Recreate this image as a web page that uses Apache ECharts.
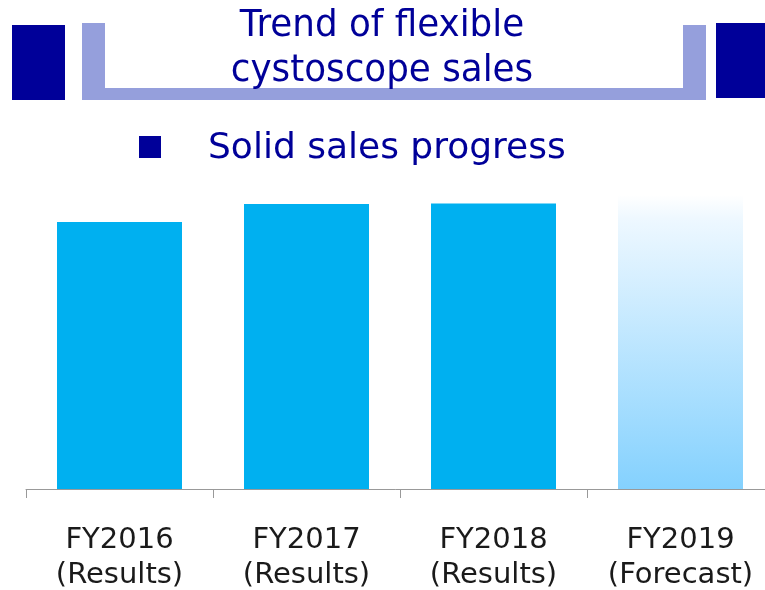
<!DOCTYPE html>
<html>
<head>
<meta charset="utf-8">
<title>Trend of flexible cystoscope sales</title>
<script src="https://cdn.jsdelivr.net/npm/echarts@6/dist/echarts.min.js"></script>
<style>
  html, body { margin: 0; padding: 0; background: #fff; }
  #chart { width: 765px; height: 590px; }
</style>
</head>
<body>
<div id="chart"></div>
<script>
// values (no axis scale shown, relative heights only)
const categories = ['FY2016\n(Results)', 'FY2017\n(Results)', 'FY2018\n(Results)', 'FY2019\n(Forecast)']
const sales = [267, 285, 285.5, 294]
const forecastFlags = [false, false, false, true]
const titleLines = ['Trend of flexible', 'cystoscope sales']
const bulletText = 'Solid sales progress'

const navy = '#000099'
const lilac = '#959fdc'

const chart = echarts.init(document.getElementById('chart'))

const barData = sales.map((v, i) => {
  if (!forecastFlags[i]) return v
  return {
    value: v,
    itemStyle: {
      color: new echarts.graphic.LinearGradient(0, 0, 0, 1, [
        { offset: 0, color: '#ffffff' },
        { offset: 0.08, color: '#eef8ff' },
        { offset: 1, color: '#84d1fe' }
      ])
    }
  }
})

chart.setOption({
  animation: false,
  // the last category runs past the right edge of the slide
  grid: { left: 26, width: 748, top: 189, bottom: 101, outerBoundsMode: 'none', containLabel: false },
  xAxis: {
    type: 'category',
    data: categories,
    axisLine: { lineStyle: { color: '#999999', width: 1 } },
    axisTick: { show: true, length: 9, lineStyle: { color: '#999999' } },
    axisLabel: {
      margin: 34,
      fontFamily: 'DejaVu Sans',
      fontSize: 29,
      lineHeight: 35,
      color: '#1a1a1a',
      interval: 0
    }
  },
  yAxis: { type: 'value', min: 0, max: 300, show: false },
  series: [{
    type: 'bar',
    data: barData,
    barWidth: 125,
    itemStyle: { color: '#00b0f0' }
  }],
  graphic: [
    // slide title decoration
    { type: 'rect', shape: { x: 12, y: 25, width: 53, height: 75 }, style: { fill: navy } },
    { type: 'rect', shape: { x: 716, y: 23, width: 49, height: 75 }, style: { fill: navy } },
    { type: 'rect', shape: { x: 82, y: 23, width: 23, height: 77 }, style: { fill: lilac } },
    { type: 'rect', shape: { x: 683, y: 25, width: 23, height: 75 }, style: { fill: lilac } },
    { type: 'rect', shape: { x: 82, y: 88, width: 624, height: 12 }, style: { fill: lilac } },
    {
      type: 'text', x: 382, y: 26, scaleX: 0.94,
      style: { text: titleLines[0], font: '38px "DejaVu Sans"', fill: navy, align: 'center', verticalAlign: 'middle' }
    },
    {
      type: 'text', x: 382, y: 71, scaleX: 0.94,
      style: { text: titleLines[1], font: '38px "DejaVu Sans"', fill: navy, align: 'center', verticalAlign: 'middle' }
    },
    // bullet line
    { type: 'rect', shape: { x: 139, y: 136, width: 22, height: 22 }, style: { fill: navy } },
    {
      type: 'text', x: 208, y: 149,
      style: { text: bulletText, font: '36px "DejaVu Sans"', fill: navy, align: 'left', verticalAlign: 'middle' }
    }
  ]
})
</script>
</body>
</html>
